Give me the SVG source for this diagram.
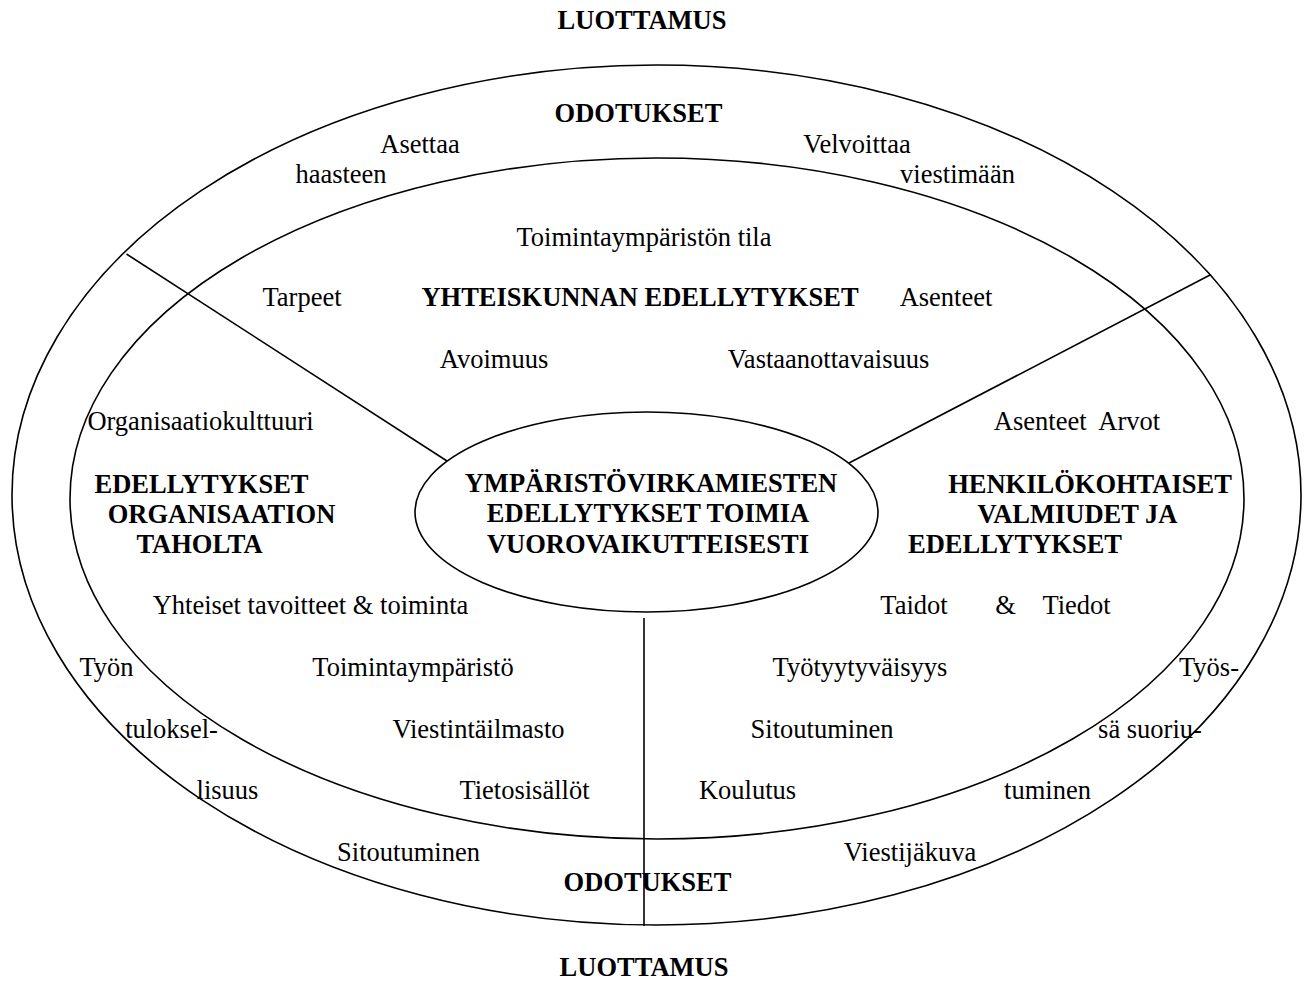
<svg xmlns="http://www.w3.org/2000/svg" width="1306" height="981" viewBox="0 0 1306 981">
<style>
.shape{fill:none;stroke:#000;stroke-width:1.6}
.line{fill:none;stroke:#000;stroke-width:1.6}
text{font-family:"Liberation Serif","Times New Roman",serif;font-size:26.5px;fill:#000;text-anchor:middle}
.b{font-weight:bold}
</style>
<rect width="1306" height="981" fill="#fff"/>
<g id="outer-ring">
<ellipse class="shape" cx="656.5" cy="495" rx="644.5" ry="430"/>
<text class="b" x="642" y="29">LUOTTAMUS</text>
<text class="b" x="638.5" y="122">ODOTUKSET</text>
<text x="420" y="153">Asettaa</text>
<text x="341" y="183">haasteen</text>
<text x="857" y="153">Velvoittaa</text>
<text x="957.5" y="183">viestimään</text>
<text x="106.5" y="676">Työn</text>
<text x="171.5" y="738">tuloksel-</text>
<text x="227.5" y="799">lisuus</text>
<text x="1209" y="676">Työs-</text>
<text x="1150" y="738">sä suoriu-</text>
<text x="1047.5" y="799">tuminen</text>
<text x="408.5" y="861">Sitoutuminen</text>
<text x="910" y="861">Viestijäkuva</text>
<text class="b" x="647.5" y="891">ODOTUKSET</text>
<text class="b" x="644" y="976">LUOTTAMUS</text>
</g>
<g id="inner-ellipse">
<ellipse class="shape" cx="657" cy="498.5" rx="587" ry="340.5"/>
</g>
<g id="connectors">
<line class="line" x1="126.5" y1="254" x2="447" y2="461"/>
<line class="line" x1="1210" y1="275" x2="849" y2="463"/>
<line class="line" x1="644" y1="618" x2="644" y2="926"/>
</g>
<g id="society">
<text x="644" y="246">Toimintaympäristön tila</text>
<text x="302" y="306">Tarpeet</text>
<text class="b" x="640" y="306">YHTEISKUNNAN EDELLYTYKSET</text>
<text x="946" y="306">Asenteet</text>
<text x="494" y="368">Avoimuus</text>
<text x="828.5" y="368">Vastaanottavaisuus</text>
</g>
<g id="organisation">
<text x="200.5" y="430">Organisaatiokulttuuri</text>
<text class="b" x="201.5" y="493">EDELLYTYKSET</text>
<text class="b" x="221.5" y="523">ORGANISAATION</text>
<text class="b" x="199.5" y="553">TAHOLTA</text>
<text x="310.5" y="614">Yhteiset tavoitteet &amp; toiminta</text>
<text x="413" y="676">Toimintaympäristö</text>
<text x="478.5" y="738">Viestintäilmasto</text>
<text x="524.5" y="799">Tietosisällöt</text>
</g>
<g id="personal">
<text x="1077" y="430" xml:space="preserve">Asenteet  Arvot</text>
<text class="b" x="1090" y="493">HENKILÖKOHTAISET</text>
<text class="b" x="1077.5" y="523">VALMIUDET JA</text>
<text class="b" x="1015" y="553">EDELLYTYKSET</text>
<text y="614"><tspan x="914">Taidot</tspan><tspan x="1005.5">&amp;</tspan><tspan x="1076.5">Tiedot</tspan></text>
<text x="860" y="676">Työtyytyväisyys</text>
<text x="822" y="738">Sitoutuminen</text>
<text x="747.5" y="799">Koulutus</text>
</g>
<g id="center-node">
<ellipse class="shape" cx="646.5" cy="512" rx="231.5" ry="100"/>
<text class="b" x="651" y="492">YMPÄRISTÖVIRKAMIESTEN</text>
<text class="b" x="648" y="522">EDELLYTYKSET TOIMIA</text>
<text class="b" x="648" y="553">VUOROVAIKUTTEISESTI</text>
</g>
</svg>
